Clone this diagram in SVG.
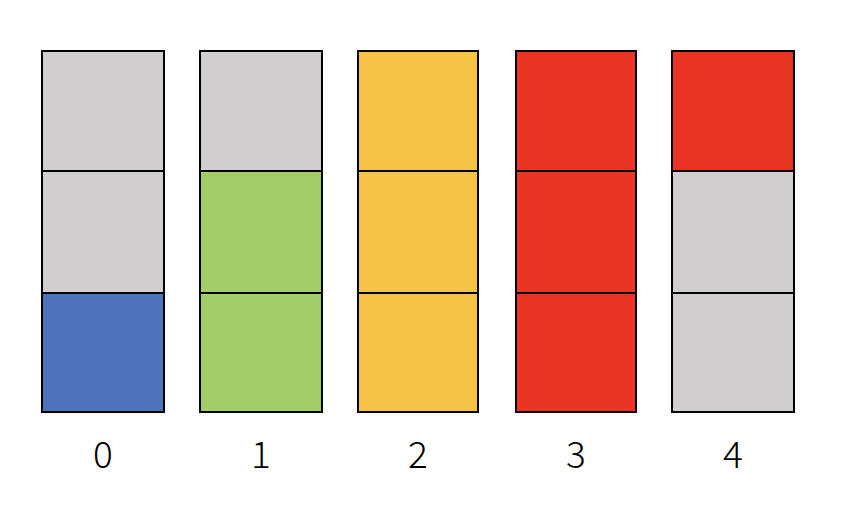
<svg xmlns="http://www.w3.org/2000/svg" width="856" height="524" viewBox="0 0 856 524">
<style>
.c{stroke:#000;stroke-width:2}
.g{fill:#D0CECF}.b{fill:#4E73BE}.gr{fill:#A2CE67}.y{fill:#F5C345}.r{fill:#E93424}
text{font-family:"Noto Sans CJK JP","Noto Sans",sans-serif;font-size:37px;font-weight:300;text-anchor:middle;fill:#000}
</style>
<rect width="856" height="524" fill="#fff"/>
<g id="col0">
<rect class="c g" x="42" y="51" width="122" height="120"/>
<rect class="c g" x="42" y="171" width="122" height="122"/>
<rect class="c b" x="42" y="293" width="122" height="119"/>
<text x="103" y="468">0</text>
</g>
<g id="col1">
<rect class="c g" x="200" y="51" width="122" height="120"/>
<rect class="c gr" x="200" y="171" width="122" height="122"/>
<rect class="c gr" x="200" y="293" width="122" height="119"/>
<text x="261" y="468">1</text>
</g>
<g id="col2">
<rect class="c y" x="358" y="51" width="120" height="120"/>
<rect class="c y" x="358" y="171" width="120" height="122"/>
<rect class="c y" x="358" y="293" width="120" height="119"/>
<text x="418" y="468">2</text>
</g>
<g id="col3">
<rect class="c r" x="516" y="51" width="120" height="120"/>
<rect class="c r" x="516" y="171" width="120" height="122"/>
<rect class="c r" x="516" y="293" width="120" height="119"/>
<text x="576" y="468">3</text>
</g>
<g id="col4">
<rect class="c r" x="672" y="51" width="122" height="120"/>
<rect class="c g" x="672" y="171" width="122" height="122"/>
<rect class="c g" x="672" y="293" width="122" height="119"/>
<text x="733" y="468">4</text>
</g>
<g id="connectors"/>
</svg>
